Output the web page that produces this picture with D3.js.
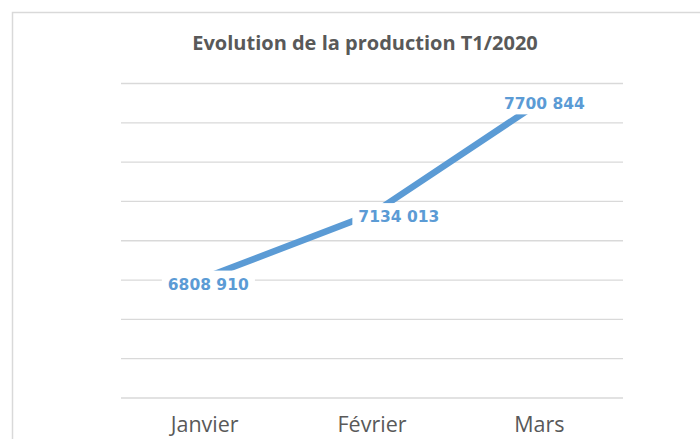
<!DOCTYPE html>
<html>
<head>
<meta charset="utf-8">
<script src="https://cdn.jsdelivr.net/npm/d3@7"></script>
<style>
  body { margin: 0; background: #fff; }
  text { font-family: "Open Sans", sans-serif; }
</style>
</head>
<body>
<div id="chart"></div>
<script>
// Data
const months = ["Janvier", "Février", "Mars"];
const production = [6808910, 7134013, 7700844];
const yTicks = [6200000, 6400000, 6600000, 6800000, 7000000, 7200000, 7400000, 7600000, 7800000];
const title = "Evolution de la production T1/2020";

const W = 700, H = 439;
const svg = d3.select("#chart").append("svg")
    .attr("width", W)
    .attr("height", H);

// Chart frame (cut off at right and bottom)
svg.append("rect")
    .attr("x", 12.5)
    .attr("y", 12.5)
    .attr("width", W + 20)
    .attr("height", H + 20)
    .attr("fill", "#fff")
    .attr("stroke", "#d9d9d9")
    .attr("stroke-width", 1.5);

// Scales
const x = d3.scaleBand()
    .domain(months)
    .range([121, 623]);

const y = d3.scaleLinear()
    .domain([6200000, 7800000])
    .range([397.5, 83]);

// Gridlines
svg.append("g")
    .attr("transform", "translate(121,0)")
    .call(d3.axisLeft(y).tickValues(yTicks).tickSize(-502).tickFormat(""))
    .call(g => g.select(".domain").remove())
    .call(g => g.selectAll(".tick line").attr("stroke", "#d9d9d9").attr("stroke-width", 1.3));

// X axis labels
svg.append("g")
    .attr("transform", "translate(0,397.5)")
    .call(d3.axisBottom(x).tickSize(0).tickPadding(0))
    .call(g => g.select(".domain").remove())
    .call(g => g.selectAll(".tick text")
        .attr("y", 34.5)
        .attr("dy", 0)
        .attr("fill", "#595959")
        .style("font-family", "'Open Sans', sans-serif")
        .style("font-size", "21.5px"));

// Title
svg.append("text")
    .attr("x", 365)
    .attr("y", 50)
    .attr("text-anchor", "middle")
    .attr("fill", "#595959")
    .style("font-size", "20px")
    .style("font-weight", "bold")
    .text(title);

// Line
const data = months.map((m, i) => ({ month: m, value: production[i] }));
const line = d3.line()
    .x(d => x(d.month) + x.bandwidth() / 2)
    .y(d => y(d.value));

svg.append("path")
    .datum(data)
    .attr("fill", "none")
    .attr("stroke", "#5b9bd5")
    .attr("stroke-width", 6.5)
    .attr("d", line);

// Data labels with white boxes
const fmt = v => {
    const s = String(v);
    return s.slice(0, s.length - 3) + " " + s.slice(-3);
};
const offsets = [[3.6, 6.2], [26.8, 2.6], [5, 1.3]];
data.forEach((d, i) => {
    const cx = x(d.month) + x.bandwidth() / 2 + offsets[i][0];
    const cy = y(d.value) + offsets[i][1];
    const g = svg.append("g");
    const t = g.append("text")
        .attr("x", cx)
        .attr("y", cy)
        .attr("dy", "0.36em")
        .attr("text-anchor", "middle")
        .attr("fill", "#5b9bd5")
        .style("font-family", "'DejaVu Sans', sans-serif")
        .style("font-size", "15.5px")
        .style("font-weight", "bold")
        .text(fmt(d.value));
    const b = t.node().getBBox();
    g.insert("rect", "text")
        .attr("x", b.x - 6)
        .attr("y", b.y - 5)
        .attr("width", b.width + 12)
        .attr("height", b.height + 6)
        .attr("fill", "#fff");
});
</script>
</body>
</html>
